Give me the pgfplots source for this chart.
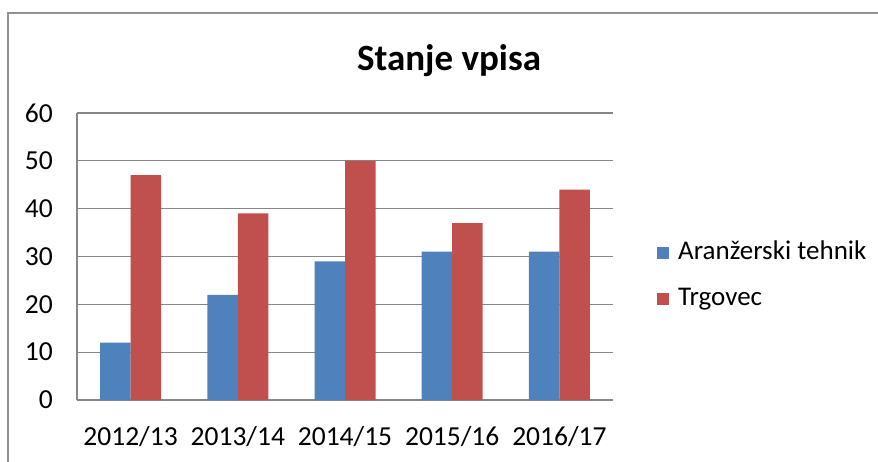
\documentclass[border=0pt]{standalone}
\usepackage{pgfplots}
\pgfplotsset{compat=1.18}
\usepackage{fontspec}
\setmainfont{Carlito}
\definecolor{cblue}{HTML}{4F81BD}
\definecolor{cred}{HTML}{C0504D}
\definecolor{cgrid}{HTML}{868686}
\begin{document}
\begin{tikzpicture}[x=1pt,y=1pt]
\path[use as bounding box] (0,0) rectangle (878,461);
\draw[cgrid!90, line width=1.5pt] (8,-5) -- (8,448) -- (890,448);
\node[font=\fontsize{37}{40}\selectfont\bfseries] at (449,400) {Stanje vpisa};
\begin{axis}[
  at={(77pt,61pt)}, anchor=south west,
  scale only axis, width=536pt, height=287pt,
  ybar=0pt, bar width=30.5pt,
  xmin=-0.5, xmax=4.5, ymin=0, ymax=60,
  ytick={0,10,...,60},
  xtick={0,1,2,3,4},
  xticklabels={2012/13,2013/14,2014/15,2015/16,2016/17},
  major tick length=0pt,
  ymajorgrids, grid style={cgrid, line width=1.2pt},
  axis x line*=bottom, axis y line*=left,
  axis line style={cgrid, line width=1.2pt, -},
  /pgf/number format/assume math mode=true,
  tick label style={font=\fontsize{27.5}{31}\selectfont, inner sep=0pt},
  yticklabel style={anchor=east, xshift=-24pt},
  xticklabel style={anchor=north, yshift=-26pt},
  legend style={at={(1.082,0.432)}, anchor=west, draw=none, fill=none,
    font=\fontsize{27}{31}\selectfont, row sep=22pt, column sep=9pt, inner sep=0pt,
    nodes={inner sep=0pt, text height=18pt, text depth=6pt}},
  legend cell align=left,
  legend image code/.code={\fill[#1] (0pt,-6pt) rectangle (12pt,6pt);},
]
\addplot[fill=cblue, draw=none] coordinates {(0,12) (1,22) (2,29) (3,31) (4,31)};
\addplot[fill=cred, draw=none] coordinates {(0,47) (1,39) (2,50) (3,37) (4,44)};
\legend{Aranžerski tehnik, Trgovec}
\end{axis}
\end{tikzpicture}
\end{document}
